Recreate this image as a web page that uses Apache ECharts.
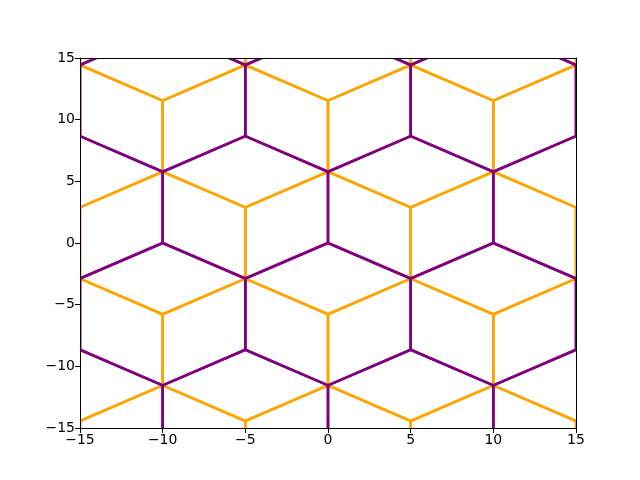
<!DOCTYPE html>
<html>
<head>
<meta charset="utf-8">
<script src="https://cdn.jsdelivr.net/npm/echarts@6/dist/echarts.min.js"></script>
<style>html,body{margin:0;padding:0;background:#fff}#c{width:640px;height:480px}</style>
</head>
<body>
<div id="c"></div>
<script>
// Hexagon side length (pointy-top hexagons)
const hexSide = 5.7735;
// Orange hexagon centres
const orangeCenterX = [-20,-10,0,10,20, -15,-5,5,15, -20,-10,0,10,20, -15,-5,5,15, -20,-10,0,10,20];
const orangeCenterY = [-17.32,-17.32,-17.32,-17.32,-17.32, -8.66,-8.66,-8.66,-8.66, 0,0,0,0,0, 8.66,8.66,8.66,8.66, 17.32,17.32,17.32,17.32,17.32];
// Purple hexagon centres
const purpleCenterX = [-15,-5,5,15, -20,-10,0,10,20, -15,-5,5,15, -20,-10,0,10,20, -15,-5,5,15];
const purpleCenterY = [-14.43,-14.43,-14.43,-14.43, -5.77,-5.77,-5.77,-5.77,-5.77, 2.89,2.89,2.89,2.89, 11.55,11.55,11.55,11.55,11.55, 20.21,20.21,20.21,20.21];
// Axis ticks
const tickValues = [-15,-10,-5,0,5,10,15];
const colors = { orange: '#FFA500', purple: '#800080' };

const vertexAngles = [90, 30, -30, -90, -150, 150, 90];
function hexPoints(cx, cy) {
  return vertexAngles.map(a => [cx + hexSide * Math.cos(a * Math.PI / 180), cy + hexSide * Math.sin(a * Math.PI / 180)]);
}
const series = [];
function addHexes(xs, ys, color) {
  xs.forEach((x, i) => {
    series.push({
      type: 'line', data: hexPoints(x, ys[i]), showSymbol: false, symbol: 'none',
      lineStyle: { color: color, width: 2.6, join: 'round', cap: 'round' },
      clip: true, silent: true, animation: false
    });
  });
}
addHexes(orangeCenterX, orangeCenterY, colors.orange);
addHexes(purpleCenterX, purpleCenterY, colors.purple);

const fmt = v => String(v).replace('-', '\u2212');
const labelStyle = { color: '#000', fontFamily: 'DejaVu Sans', fontSize: 14, formatter: fmt, margin: 5 };
function axis(pos, show) {
  return {
    type: 'value', position: pos, min: tickValues[0], max: tickValues[tickValues.length - 1], interval: 5,
    z: 10,
    axisLine: { show: true, onZero: false, lineStyle: { color: '#000', width: 1 } },
    axisTick: { show: show, length: 5, inside: false, lineStyle: { color: '#000', width: 1 } },
    axisLabel: Object.assign({ show: show }, labelStyle),
    splitLine: { show: false }
  };
}
// white masks outside the plotting area (clip marks exactly at the frame)
const W = 640, H = 480, L = 80, R = 576, T = 58, B = 428;
const maskStyle = { fill: '#fff' };
const chart = echarts.init(document.getElementById('c'), null, { renderer: 'canvas' });
chart.setOption({
  animation: false,
  backgroundColor: '#fff',
  grid: { left: L, right: W - R, top: T, bottom: H - B, containLabel: false },
  xAxis: [axis('bottom', true), axis('top', false)],
  yAxis: [axis('left', true), axis('right', false)],
  graphic: [
    { type: 'rect', z: 5, silent: true, shape: { x: 0, y: 0, width: L, height: H }, style: maskStyle },
    { type: 'rect', z: 5, silent: true, shape: { x: R, y: 0, width: W - R, height: H }, style: maskStyle },
    { type: 'rect', z: 5, silent: true, shape: { x: 0, y: 0, width: W, height: T }, style: maskStyle },
    { type: 'rect', z: 5, silent: true, shape: { x: 0, y: B, width: W, height: H - B }, style: maskStyle }
  ],
  series: series
});
</script>
</body>
</html>
